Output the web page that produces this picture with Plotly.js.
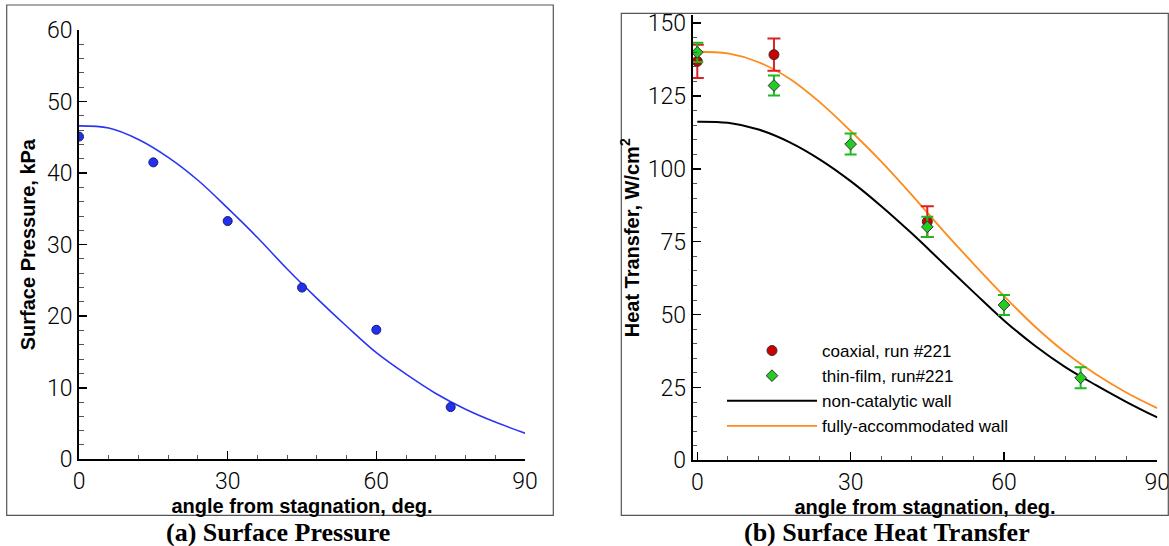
<!DOCTYPE html>
<html>
<head>
<meta charset="utf-8">
<script src="https://cdn.plot.ly/plotly-3.0.1.min.js"></script>
<style>html,body{margin:0;padding:0;background:#fff;}#chart{width:1169px;height:546px;}</style>
</head>
<body>
<div id="chart"></div>
<script>
// ---- data: (a) surface pressure ----
const pressAngle = [0, 15, 30, 45, 60, 75];
const pressMeas = [45.1, 41.5, 33.3, 24.0, 18.1, 7.3];
const pressCurveAngle = [0, 6, 12, 18, 24, 30, 36, 42, 48, 54, 60, 66, 72, 78, 84, 90];
const pressCurve = [46.6, 46.3, 44.7, 42.2, 39.0, 35.1, 31.0, 26.6, 22.5, 18.6, 14.9, 11.9, 9.2, 7.0, 5.2, 3.65];

// ---- data: (b) surface heat transfer ----
const coaxAngle = [0, 15, 45];
const coaxHeat = [136.9, 139.2, 81.9];
const coaxErr = [5.7, 5.5, 5.3];
const thinAngle = [0, 15, 30, 45, 60, 75];
const thinHeat = [140.0, 128.6, 108.5, 80.1, 53.3, 28.3];
const thinErr = [3.3, 3.4, 3.6, 3.5, 3.4, 3.6];
const curveAngle = [0, 6, 12, 18, 24, 30, 36, 42, 48, 54, 60, 66, 72, 78, 84, 90];
const nonCatalytic = [116.2, 115.8, 113.5, 109.2, 103.2, 95.8, 87.2, 77.8, 67.8, 57.8, 48.0, 39.4, 32.0, 25.8, 20.0, 14.7];
const fullyAccom = [140.2, 139.6, 136.6, 131.0, 122.8, 113.0, 102.5, 91.0, 79.0, 67.5, 56.4, 46.0, 37.0, 29.5, 23.2, 17.9];

const seriesNames = ["coaxial, run #221", "thin-film, run#221", "non-catalytic wall", "fully-accommodated wall"];
const xTitle = "angle from stagnation, deg.";
const yTitleA = "Surface Pressure, kPa";
const yTitleB = "Heat Transfer, W/cm<sup>2</sup>";
const captionA = "(a) Surface Pressure";
const captionB = "(b) Surface Heat Transfer";

// ---- layout helpers (pixel -> paper) ----
const W = 1169, H = 546;
const fx = p => p / W;
const fy = p => 1 - p / H;

const tickFont = {family: "Roboto, 'Liberation Sans', sans-serif", size: 23, color: "#000", weight: 300};
const titleFont = {family: "'Liberation Sans', Arial, sans-serif", size: 20, color: "#000", weight: "bold"};

function axisCommon(extra) {
  return Object.assign({
    showline: true, linewidth: 2, linecolor: "#000",
    showgrid: false, zeroline: false,
    ticks: "inside", ticklen: 8, tickwidth: 1.5, tickcolor: "#000",
    tickfont: tickFont, mirror: false, fixedrange: true,
    ticklabeloverflow: "allow"
  }, extra);
}

const traces = [
  {x: pressCurveAngle, y: pressCurve, xaxis: "x", yaxis: "y", mode: "lines", type: "scatter",
   line: {color: "#2a35f5", width: 1.6, shape: "spline"}, showlegend: false, hoverinfo: "skip"},
  {x: pressAngle, y: pressMeas, xaxis: "x", yaxis: "y", mode: "markers", type: "scatter",
   marker: {color: "#2230f0", size: 9, line: {color: "#1a1a70", width: 1}}, showlegend: false},

  {x: curveAngle, y: nonCatalytic, xaxis: "x2", yaxis: "y2", mode: "lines", type: "scatter",
   name: seriesNames[2], legendrank: 3, line: {color: "#000", width: 2, shape: "spline"}},
  {x: curveAngle, y: fullyAccom, xaxis: "x2", yaxis: "y2", mode: "lines", type: "scatter",
   name: seriesNames[3], legendrank: 4, line: {color: "#ff8a1c", width: 1.8, shape: "spline"}},
  {x: coaxAngle, y: coaxHeat, xaxis: "x2", yaxis: "y2", mode: "markers", type: "scatter",
   name: seriesNames[0], legendrank: 1,
   error_y: {type: "data", array: coaxErr, visible: true, color: "#dd2020", thickness: 2, width: 6.5},
   marker: {symbol: "circle", color: "#cc0000", size: 10, line: {color: "#333", width: 1}}},
  {x: thinAngle, y: thinHeat, xaxis: "x2", yaxis: "y2", mode: "markers", type: "scatter",
   name: seriesNames[1], legendrank: 2,
   error_y: {type: "data", array: thinErr, visible: true, color: "#20b820", thickness: 2, width: 6},
   marker: {symbol: "diamond", color: "#22cc22", size: 9, line: {color: "#333", width: 1}}}
];

const layout = {
  width: W, height: H,
  margin: {l: 0, r: 0, t: 0, b: 0},
  paper_bgcolor: "#fff", plot_bgcolor: "rgba(0,0,0,0)",
  showlegend: true,
  xaxis: axisCommon({domain: [fx(79), fx(525)], range: [0, 90], dtick: 30, tick0: 0, anchor: "y",
    minor: {dtick: 6, ticks: "inside", ticklen: 4.5, tickcolor: "#555", tickwidth: 1},
    title: {text: xTitle, font: titleFont, standoff: 4}}),
  yaxis: axisCommon({domain: [fy(459.3), fy(30)], range: [0, 60], dtick: 10, tick0: 0, anchor: "x",
    minor: {dtick: 2, ticks: "inside", ticklen: 4.5, tickcolor: "#555", tickwidth: 1},
    title: {text: yTitleA, font: titleFont, standoff: 6}}),
  xaxis2: axisCommon({domain: [fx(692.7), fx(1157.3)], range: [-0.9, 90], dtick: 30, tick0: 0, anchor: "y2",
    minor: {dtick: 6, ticks: "inside", ticklen: 4.5, tickcolor: "#555", tickwidth: 1},
    title: {text: xTitle, font: titleFont, standoff: 4}}),
  yaxis2: axisCommon({domain: [fy(460.3), fy(15.3)], range: [0, 152.7], dtick: 25, tick0: 0, anchor: "x2",
    minor: {dtick: 5, ticks: "inside", ticklen: 4.5, tickcolor: "#555", tickwidth: 1},
    title: {text: yTitleB, font: titleFont, standoff: 3}}),
  legend: {x: fx(722), y: fy(333), xanchor: "left", yanchor: "top", bgcolor: "rgba(0,0,0,0)",
    borderwidth: 0, itemwidth: 90, font: {family: "'Liberation Sans', Arial, sans-serif", size: 17, color: "#000"},
    traceorder: "normal", tracegroupgap: 0},
  shapes: [
    {type: "rect", xref: "paper", yref: "paper", x0: fx(6.7), x1: fx(553.3), y0: fy(515.3), y1: fy(5),
     line: {color: "#555", width: 1.2}},
    {type: "rect", xref: "paper", yref: "paper", x0: fx(621.3), x1: fx(1168.3), y0: fy(515.3), y1: fy(13.3),
     line: {color: "#555", width: 1.2}}
  ],
  annotations: [
    {text: "<b>" + captionA + "</b>", xref: "paper", yref: "paper", x: fx(278), y: fy(532.5),
     xanchor: "center", yanchor: "middle", showarrow: false,
     font: {family: "'Liberation Serif', 'Times New Roman', serif", size: 26, color: "#000"}},
    {text: "<b>" + captionB + "</b>", xref: "paper", yref: "paper", x: fx(887), y: fy(532.5),
     xanchor: "center", yanchor: "middle", showarrow: false,
     font: {family: "'Liberation Serif', 'Times New Roman', serif", size: 26, color: "#000"}}
  ]
};

Plotly.newPlot("chart", traces, layout, {staticPlot: true, displayModeBar: false});
</script>
</body>
</html>
